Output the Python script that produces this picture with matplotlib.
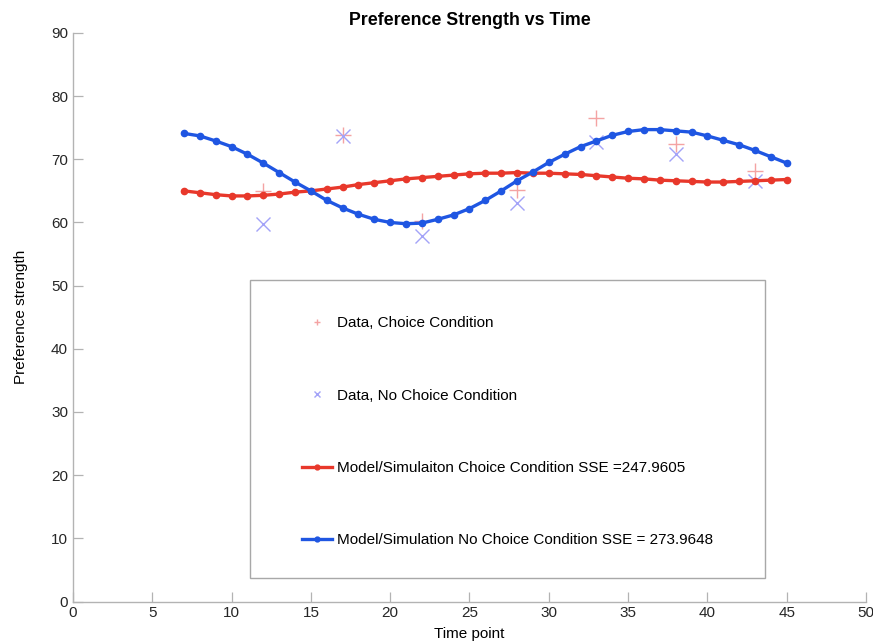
import matplotlib
matplotlib.use("Agg")
import matplotlib.pyplot as plt
from matplotlib.patches import Rectangle

plt.rcParams['font.family'] = ['Liberation Sans', 'DejaVu Sans']

time_model = list(range(7, 46))
model_choice = [65.0, 64.7, 64.4, 64.2, 64.2, 64.3, 64.5, 64.8, 65.0, 65.3,
                65.6, 66.0, 66.3, 66.6, 66.9, 67.1, 67.3, 67.5, 67.7, 67.8,
                67.8, 67.9, 67.8, 67.8, 67.7, 67.6, 67.4, 67.2, 67.0, 66.9,
                66.7, 66.6, 66.5, 66.4, 66.4, 66.5, 66.6, 66.7, 66.8]
model_nochoice = [74.1, 73.7, 72.9, 72.0, 70.8, 69.4, 67.9, 66.4, 65.0, 63.5,
                  62.3, 61.3, 60.5, 60.0, 59.8, 59.9, 60.5, 61.2, 62.2, 63.5,
                  65.0, 66.6, 68.0, 69.5, 70.8, 72.0, 72.9, 73.8, 74.4, 74.7,
                  74.7, 74.5, 74.3, 73.7, 73.0, 72.3, 71.4, 70.4, 69.4]

time_data = [12, 17, 22, 28, 33, 38, 43]
data_choice = [65.0, 73.9, 60.3, 65.1, 76.5, 72.5, 68.1]
data_nochoice = [59.8, 73.7, 57.9, 63.1, 72.8, 70.8, 66.6]

labels = ["Data, Choice Condition",
          "Data, No Choice Condition",
          "Model/Simulaiton Choice Condition SSE =247.9605",
          "Model/Simulation No Choice Condition SSE = 273.9648"]

fig = plt.figure(figsize=(8.73, 6.41), dpi=100)
ax = fig.add_axes([0.0836, 0.0616, 0.9084, 0.887])

h1, = ax.plot(time_data, data_choice, linestyle='none', marker='+',
              markersize=12, markeredgewidth=1.0, color='#f4a3a3')
h2, = ax.plot(time_data, data_nochoice, linestyle='none', marker='x',
              markersize=9.5, markeredgewidth=1.0, color='#a3a3f8')
h3, = ax.plot(time_model, model_choice, '-o', color='#e8382b', linewidth=2.4,
              markersize=4.5)
h4, = ax.plot(time_model, model_nochoice, '-o', color='#1f56e2', linewidth=2.4,
              markersize=4.5)

ax.set_xlim(0, 50)
ax.set_ylim(0, 90)
ax.set_xticks(range(0, 51, 5))
ax.set_yticks(range(0, 91, 10))
for s in ['top', 'right']:
    ax.spines[s].set_visible(False)
for s in ['left', 'bottom']:
    ax.spines[s].set_color('#b3b3b3')
    ax.spines[s].set_linewidth(1.0)
ax.tick_params(direction='in', length=7, width=0.9, color='#b3b3b3',
               labelcolor='#262626', labelsize=11)

ax.set_title("Preference Strength vs Time", fontsize=12.8, fontweight='bold', pad=6)
ax.set_xlabel("Time point", fontsize=11, labelpad=5)
ax.set_ylabel("Preference strength", fontsize=11, labelpad=17)

ax.add_patch(Rectangle((0.223, 0.0413), 0.650, 0.5242, transform=ax.transAxes,
                       facecolor='white', edgecolor='#a8a8a8', linewidth=1.0,
                       zorder=4))
leg = ax.legend([h1, h2, h3, h4], labels, loc='upper left',
                bbox_to_anchor=(0.279, 0.515), borderpad=0, frameon=False,
                numpoints=1, handlelength=2.0, handletextpad=0.3,
                labelspacing=3.82, fontsize=11)
leg.set_zorder(5)
lh = leg.legend_handles
lh[0].set_markersize(5)
lh[1].set_markersize(4)
lh[2].set_markersize(3.5)
lh[3].set_markersize(3.5)

fig.savefig("out.png", dpi=100)
